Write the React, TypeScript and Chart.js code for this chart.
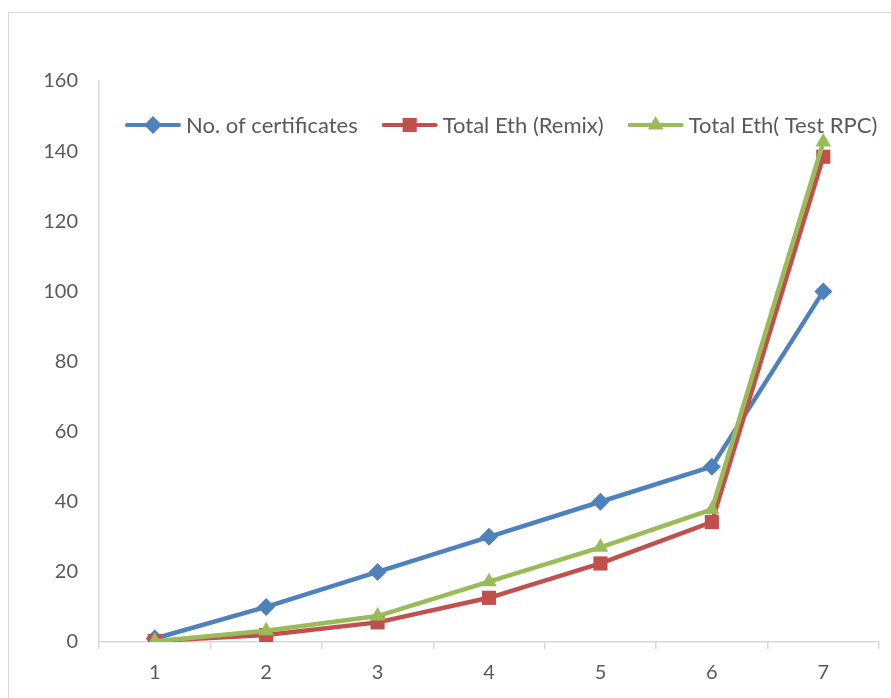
import React, { useEffect, useRef } from 'react';
import { Chart, registerables } from 'chart.js';

Chart.register(...registerables);

const categories = ['1', '2', '3', '4', '5', '6', '7'];
const certificates = [1, 10, 20, 30, 40, 50, 100];
const totalEthRemix = [0.3, 2, 5.6, 12.6, 22.4, 34.2, 138.4];
const totalEthTestRpc = [0.2, 3.2, 7.4, 17.2, 27, 37.8, 142.6];
const seriesNames = ['No. of certificates', 'Total Eth (Remix)', 'Total Eth( Test RPC)'];
const seriesColors = ['#4F81BD', '#C0504D', '#9BBB59'];
const seriesMarkers = ['rectRot', 'rect', 'triangle'];
const yMin = 0;
const yMax = 160;
const yStep = 20;

const FONT = 'Lato, "Noto Sans", sans-serif';
const TEXT = '#595959';
const AXIS = '#d9d9d9';

function drawMarker(ctx: CanvasRenderingContext2D, style: string, x: number, y: number, r: number) {
  ctx.beginPath();
  if (style === 'rectRot') {
    ctx.moveTo(x, y - r);
    ctx.lineTo(x + r, y);
    ctx.lineTo(x, y + r);
    ctx.lineTo(x - r, y);
  } else if (style === 'rect') {
    const s = r * Math.SQRT1_2;
    ctx.rect(x - s, y - s, 2 * s, 2 * s);
  } else {
    ctx.moveTo(x, y - r);
    ctx.lineTo(x + r * Math.sin(Math.PI / 3), y + r / 2);
    ctx.lineTo(x - r * Math.sin(Math.PI / 3), y + r / 2);
  }
  ctx.closePath();
  ctx.fill();
}

const legendPlugin = {
  id: 'inlineLegend',
  beforeDatasetsDraw(chart: any) {
    const ctx: CanvasRenderingContext2D = chart.ctx;
    ctx.save();
    ctx.font = `22px ${FONT}`;
    ctx.textBaseline = 'middle';
    ctx.textAlign = 'left';
    let x = 127;
    const y = 125;
    chart.data.datasets.forEach((ds: any) => {
      ctx.strokeStyle = ds.borderColor;
      ctx.fillStyle = ds.borderColor;
      ctx.lineWidth = 4;
      ctx.lineCap = 'round';
      ctx.beginPath();
      ctx.moveTo(x, y);
      ctx.lineTo(x + 52, y);
      ctx.stroke();
      drawMarker(ctx, ds.pointStyle, x + 26, y, ds.pointRadius);
      ctx.fillStyle = TEXT;
      ctx.fillText(ds.label, x + 59, y + 1);
      x += 59 + ctx.measureText(ds.label).width + 26;
    });
    ctx.restore();
  },
};

export default function App() {
  const ref = useRef<HTMLCanvasElement | null>(null);

  useEffect(() => {
    if (!ref.current) return;
    const series = [certificates, totalEthRemix, totalEthTestRpc];
    const radii = [9, 10, 9];
    const chart = new Chart(ref.current, {
      type: 'line',
      data: {
        labels: categories,
        datasets: series.map((d, i) => ({
          label: seriesNames[i],
          data: d,
          borderColor: seriesColors[i],
          backgroundColor: seriesColors[i],
          pointBackgroundColor: seriesColors[i],
          pointBorderColor: seriesColors[i],
          pointBorderWidth: 0,
          pointStyle: seriesMarkers[i] as any,
          pointRadius: radii[i],
          borderWidth: 4.5,
          tension: 0,
          fill: false,
          order: 3 - i,
        })),
      },
      options: {
        animation: false,
        responsive: true,
        maintainAspectRatio: false,
        layout: { padding: { left: 0, top: 81, right: 12, bottom: 0 } },
        plugins: {
          legend: { display: false },
          tooltip: { enabled: false },
        },
        scales: {
          x: {
            type: 'category',
            offset: true,
            grid: {
              offset: true,
              drawOnChartArea: false,
              drawTicks: true,
              tickLength: 7,
              color: AXIS,
              lineWidth: 1.5,
            },
            border: { display: true, color: AXIS, width: 1.5 },
            ticks: { color: TEXT, font: { family: FONT, size: 20 }, padding: 12 },
            afterFit: (s: any) => { s.height = 56; },
          },
          y: {
            min: yMin,
            max: yMax,
            grid: { drawOnChartArea: false, drawTicks: false },
            border: { display: true, color: AXIS, width: 1.5 },
            ticks: { stepSize: yStep, color: TEXT, font: { family: FONT, size: 20 }, padding: 21 },
            afterFit: (s: any) => { s.width = 99; },
          },
        },
      },
      plugins: [legendPlugin],
    });
    return () => chart.destroy();
  }, []);

  return (
    <div style={{ position: 'fixed', left: 0, top: 0, width: 891, height: 698, overflow: 'hidden', background: '#fff' }}>
      <div
        style={{
          position: 'absolute',
          left: 8,
          top: 12,
          width: 1000,
          height: 1000,
          borderTop: `1.5px solid ${AXIS}`,
          borderLeft: `1.5px solid ${AXIS}`,
        }}
      />
      <div style={{ position: 'absolute', left: 0, top: 0, width: 891, height: 698 }}>
        <canvas ref={ref} />
      </div>
    </div>
  );
}
